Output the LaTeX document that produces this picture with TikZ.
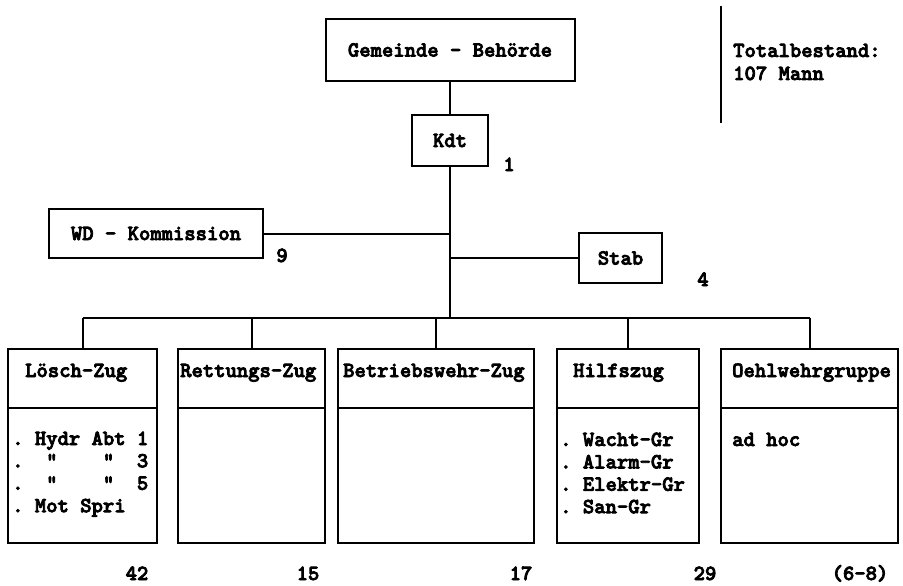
\documentclass[tikz,border=0pt]{standalone}
\usetikzlibrary{positioning}

\font\orgfont="[lmmonolt10-bold]:mapping=tex-text;embolden=3.5" at 21.6pt

\tikzset{
    org/.style={draw, line width=2pt, inner sep=0pt, outer sep=0pt},
    zug/.style={org, anchor=north, minimum height=194pt},
    lbl/.style={inner sep=0pt, anchor=base west},
    cnt/.style={inner sep=0pt, anchor=base},
    conn/.style={line width=2pt}
}

\begin{document}
\begin{tikzpicture}[x=1pt, y=-1pt, font=\orgfont]
    \useasboundingbox (0,0) rectangle (903,586);
    % leitung
    \node[org, minimum width=249pt, minimum height=62pt] (gem) at (450,50) {Gemeinde - Behörde};
    \node[org, minimum width=76pt, minimum height=51pt] (kdt) at (450,140.5) {Kdt};
    \node[org, minimum width=214pt, minimum height=49pt] (wd) at (156,233.5) {WD - Kommission};
    \node[org, minimum width=83pt, minimum height=50pt] (stab) at (620.5,258) {Stab};
    \coordinate (bar) at (450,318);
    \node[cnt] (nkdt) at (509,171) {1};
    \node[cnt] (nwd) at (282,262) {9};
    \node[cnt] (nstab) at (703,286) {4};
    % totalbestand
    \coordinate (sepT) at (721,6);
    \coordinate (sepB) at (721,123);
    \draw[conn] (sepT) -- (sepB);
    \node[lbl] (tot) at (733,57) {Totalbestand:};
    \node[lbl] (mann) at (733,80) {107 Mann};
    % zuege
    \node[zug, minimum width=149pt] (z1) at (82.5,349) {};
    \node[zug, minimum width=147pt] (z2) at (251.5,349) {};
    \node[zug, minimum width=196pt] (z3) at (436,349) {};
    \node[zug, minimum width=142pt] (z4) at (628,349) {};
    \node[zug, minimum width=177pt] (z5) at (809.5,349) {};
    \node[lbl] (h1) at (25,377) {Lösch-Zug};
    \node[lbl] (h2) at (180,377) {Rettungs-Zug};
    \node[lbl] (h3) at (343,377) {Betriebswehr-Zug};
    \node[lbl] (h4) at (573,377) {Hilfszug};
    \node[lbl] (h5) at (732,377) {Oehlwehrgruppe};
    \foreach \t [count=\i from 0] in {.~Hydr~Abt~1, .~~"~~~~"~~3, .~~"~~~~"~~5, .~Mot~Spri}
        \node[lbl] (loesch\i) at (12,445+22.4*\i) {\t};
    \foreach \t [count=\i from 0] in {.~Wacht-Gr, .~Alarm-Gr, .~Elektr-Gr, .~San-Gr}
        \node[lbl] (hilf\i) at (560,446+22.4*\i) {\t};
    \node[lbl] (adhoc) at (732,446) {ad hoc};
    \node[cnt] (c1) at (137,580) {42};
    \node[cnt] (c2) at (308,580) {15};
    \node[cnt] (c3) at (521,580) {17};
    \node[cnt] (c4) at (705,580) {29};
    \node[cnt] (c5) at (860,580) {(6-8)};
    % linien
    \draw[conn] (gem) -- (kdt);
    \draw[conn] (kdt) -- (bar);
    \draw[conn] (wd.east) -- (wd.east -| kdt.south);
    \draw[conn] (stab.west) -- (stab.west -| kdt.south);
    \draw[conn] (z1.north |- bar) -- (z5.north |- bar);
    \foreach \i in {1,...,5} {
        \draw[conn] (z\i.north |- bar) -- (z\i.north);
        \draw[conn] ([yshift=-59pt]z\i.north west) -- ([yshift=-59pt]z\i.north east);
    }
\end{tikzpicture}
\end{document}
